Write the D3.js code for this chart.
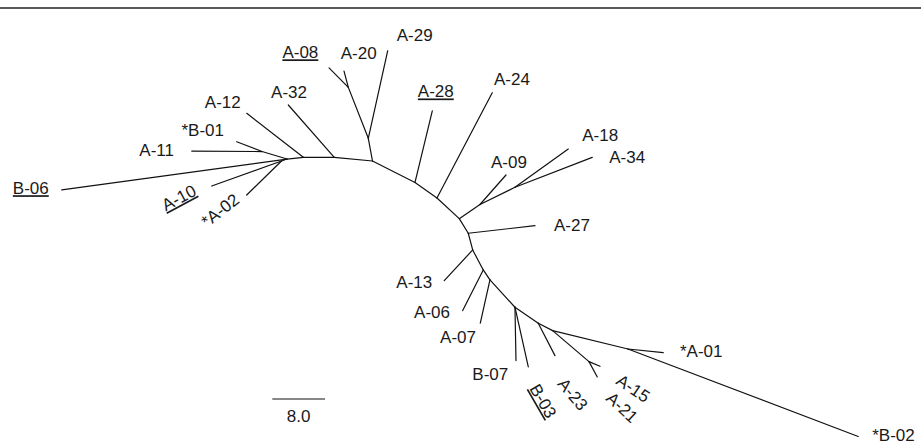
<!DOCTYPE html>
<html>
<head>
<meta charset="utf-8">
<script src="https://cdn.jsdelivr.net/npm/d3@7"></script>
<style>
  body { margin: 0; background: #fff; }
  svg text { font-family: "Liberation Sans", Arial, sans-serif; font-size: 17px; fill: #1a1a1a; }
</style>
</head>
<body>
<svg id="tree"></svg>
<script>
// Grene mellem indre knuder: [forælder, barn, længde, vinkel i grader]
const internalBranches = [
  ["N3", "N2", 5.83, -174.5],
  ["N2", "N1", 4.70, 180],
  ["N1", "N0", 2.49, 174],
  ["N0", "Na", 3.96, -163.3],
  ["N0", "Nb", 0.89, 160],
  ["N3", "N4", 3.50, -100.5],
  ["N4", "N5", 8.31, -111.4],
  ["N3", "N6", 7.23, 26.8],
  ["N6", "N7", 4.08, 35.2],
  ["N7", "N8", 4.62, 42.9],
  ["N8", "N9", 3.81, -34.4],
  ["N9", "N10", 5.92, -26.2],
  ["N8", "N11", 2.60, 58.3],
  ["N11", "N12", 2.62, 75.2],
  ["N12", "N13", 3.43, 62.1],
  ["N13", "N14", 1.83, 56.2],
  ["N14", "N15", 5.62, 47.5],
  ["N15", "N16", 4.29, 34.5],
  ["N16", "N17", 2.46, 27.2],
  ["N17", "N18", 7.25, 40.5],
  ["N17", "N19", 11.76, 13.7]
];

// Grene ud til bladene (isolater)
const tipBranches = [
  ["N0", "B-06", 34.51, 172.2],
  ["Na", "A-11", 10.67, -179.6],
  ["Na", "*B-01", 4.12, -158.8],
  ["Nb", "A-10", 11.25, 160.3],
  ["Nb", "*A-02", 7.38, 135.7],
  ["N1", "A-12", 10.88, -142.1],
  ["N2", "A-32", 10.57, -131.3],
  ["N4", "A-29", 13.62, -77.5],
  ["N5", "A-08", 4.17, -134.6],
  ["N5", "A-20", 2.56, -104.8],
  ["N6", "A-28", 11.17, -76.4],
  ["N7", "A-24", 18.05, -62.3],
  ["N9", "A-09", 5.97, -48.6],
  ["N10", "A-18", 9.96, -35.7],
  ["N10", "A-34", 12.58, -21.2],
  ["N11", "A-27", 10.19, -6.5],
  ["N12", "A-13", 6.35, 132.8],
  ["N13", "A-06", 6.92, 116.8],
  ["N14", "A-07", 6.73, 102.6],
  ["N15", "B-07", 8.10, 88.9],
  ["N15", "B-03", 9.28, 77.4],
  ["N16", "A-23", 5.53, 62.7],
  ["N18", "A-15", 1.81, 22.7],
  ["N18", "A-21", 2.64, 61.5],
  ["N19", "*A-01", 5.39, 6.0],
  ["N19", "*B-02", 37.40, 20.8]
];

const underlined = ["B-06", "A-10", "A-08", "A-28", "B-03"];
const scaleBarValue = 8.0;
const scaleBarLabel = "8.0";

// Placering af etiketter i forhold til bladet (layout, ikke data)
const labelPos = {
  "B-06":  { dx: -13, dy: 4.3, anchor: "end" },
  "A-11":  { dx: -17.7, dy: 5, anchor: "end" },
  "*B-01": { dx: -12.7, dy: -6, anchor: "end" },
  "A-10":  { dx: -45.9, dy: 25.5, anchor: "start", rot: -28 },
  "*A-02": { dx: -39.7, dy: 33, anchor: "start", rot: -38 },
  "A-12":  { dx: -6, dy: -5, anchor: "end" },
  "A-32":  { dx: 0.7, dy: -6.7, anchor: "middle" },
  "A-29":  { dx: 27, dy: -10, anchor: "middle" },
  "A-08":  { dx: -28.7, dy: -9.5, anchor: "middle" },
  "A-20":  { dx: 14.7, dy: -12.3, anchor: "middle" },
  "A-28":  { dx: 3.5, dy: -13.5, anchor: "middle" },
  "A-24":  { dx: 19.7, dy: -7.7, anchor: "middle" },
  "A-09":  { dx: 3, dy: -6.7, anchor: "middle" },
  "A-18":  { dx: 14, dy: -8, anchor: "start" },
  "A-34":  { dx: 17, dy: 5.4, anchor: "start" },
  "A-27":  { dx: 19, dy: 5.3, anchor: "start" },
  "A-13":  { dx: -12, dy: 7.6, anchor: "end" },
  "A-06":  { dx: -12.7, dy: 7, anchor: "end" },
  "A-07":  { dx: -4.3, dy: 19.4, anchor: "end" },
  "B-07":  { dx: -7.7, dy: 19.3, anchor: "end" },
  "B-03":  { dx: 0.7, dy: 21.5, anchor: "start", rot: 60 },
  "A-23":  { dx: 1.7, dy: 28.7, anchor: "start", rot: 50 },
  "A-15":  { dx: 15, dy: 17, anchor: "start", rot: 34 },
  "A-21":  { dx: 7.7, dy: 22.5, anchor: "start", rot: 43 },
  "*A-01": { dx: 16.7, dy: 4.6, anchor: "start" },
  "*B-02": { dx: 14, dy: 4.5, anchor: "start" }
};

const W = 921, H = 446;
const root = { x: 372.5, y: 161 };   // hvor roden (N3) tegnes

const svg = d3.select("#tree").attr("width", W).attr("height", H);

// Skala: længdeenheder -> pixels (8.0 = ca. 52.7 px)
const len = d3.scaleLinear().domain([0, scaleBarValue]).range([0, 52.7]);

// Byg træet med stratify
const rows = [{ id: "N3", parent: null, l: 0, a: 0 }]
  .concat(internalBranches.concat(tipBranches).map(d => ({ id: d[1], parent: d[0], l: d[2], a: d[3] })));
const tree = d3.stratify().id(d => d.id).parentId(d => d.parent)(rows);

tree.eachBefore(n => {
  if (!n.parent) { n.x = root.x; n.y = root.y; return; }
  const r = n.data.a * Math.PI / 180;
  n.x = n.parent.x + len(n.data.l) * Math.cos(r);
  n.y = n.parent.y + len(n.data.l) * Math.sin(r);
});

// Rammelinje øverst
svg.append("line")
  .attr("x1", 0).attr("x2", W).attr("y1", 8).attr("y2", 8)
  .attr("stroke", "#222").attr("stroke-width", 1.6);

// Grene
svg.append("g").selectAll("line")
  .data(tree.links())
  .join("line")
  .attr("x1", d => d.source.x).attr("y1", d => d.source.y)
  .attr("x2", d => d.target.x).attr("y2", d => d.target.y)
  .attr("stroke", "#111").attr("stroke-width", 1.2)
  .attr("stroke-linecap", "round");

// Etiketter
svg.append("g").selectAll("text")
  .data(tree.leaves())
  .join("text")
  .attr("text-anchor", d => labelPos[d.id].anchor)
  .attr("transform", d => {
    const p = labelPos[d.id];
    return `translate(${d.x + p.dx},${d.y + p.dy})` + (p.rot ? ` rotate(${p.rot})` : "");
  })
  .style("text-decoration", d => underlined.includes(d.id) ? "underline" : null)
  .text(d => d.id);

// Målestok
const sb = { x: 272.3, y: 399 };
svg.append("line")
  .attr("x1", sb.x).attr("x2", sb.x + len(scaleBarValue))
  .attr("y1", sb.y).attr("y2", sb.y)
  .attr("stroke", "#111").attr("stroke-width", 1.2);
svg.append("text")
  .attr("x", sb.x + len(scaleBarValue) / 2).attr("y", sb.y + 22.5)
  .attr("text-anchor", "middle")
  .text(scaleBarLabel);
</script>
</body>
</html>
